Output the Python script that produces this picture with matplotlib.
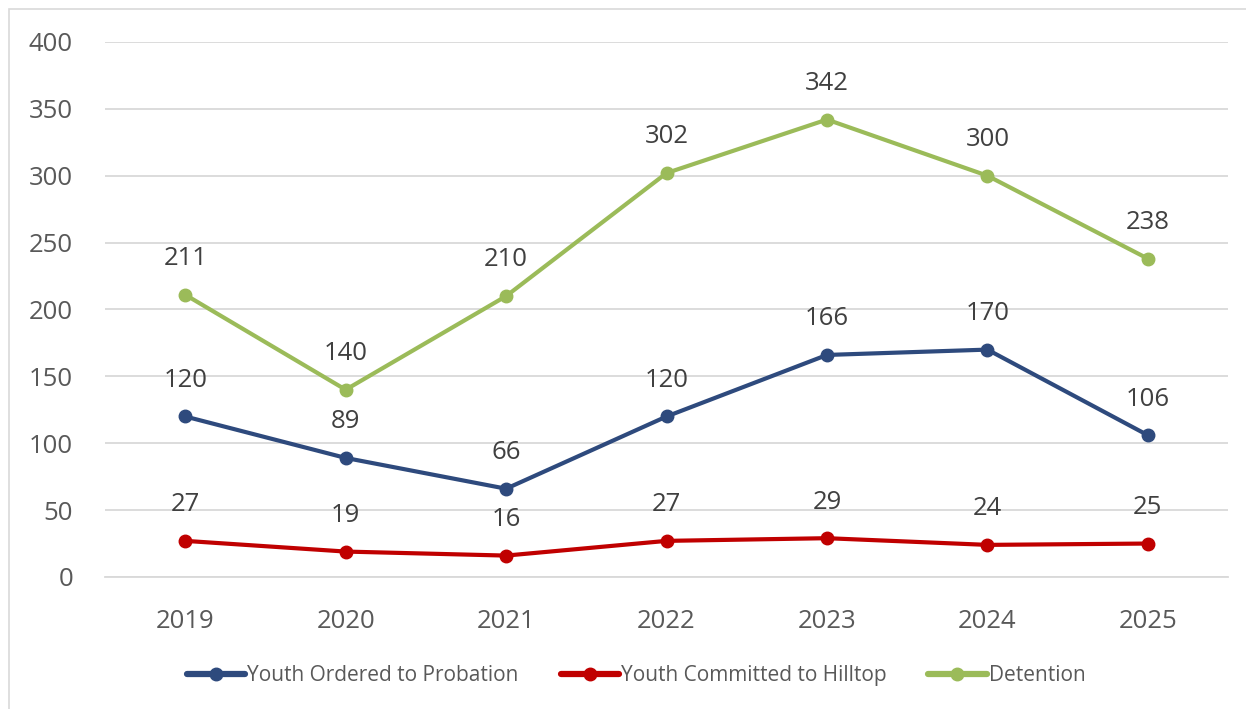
import matplotlib.pyplot as plt
from matplotlib.patches import Rectangle

years = ['2019', '2020', '2021', '2022', '2023', '2024', '2025']
probation = [120, 89, 66, 120, 166, 170, 106]
hilltop = [27, 19, 16, 27, 29, 24, 25]
detention = [211, 140, 210, 302, 342, 300, 238]

plt.rcParams['font.family'] = ['Open Sans', 'DejaVu Sans']

fig = plt.figure(figsize=(12.46, 7.09), dpi=100)
ax = fig.add_axes([0.0843, 0.1862, 0.9013, 0.7546])

# chart border
fig.patches.append(Rectangle((9 / 1246, -0.01), 1.0, 1 - 9 / 709 + 0.01,
                             transform=fig.transFigure, fill=False,
                             edgecolor='#d9d9d9', linewidth=1.2))

series = [
    ('Youth Ordered to Probation', probation, '#2e4a7d'),
    ('Youth Committed to Hilltop', hilltop, '#c00000'),
    ('Detention', detention, '#9bbb59'),
]

x = range(len(years))
for name, vals, col in series:
    ax.plot(x, vals, color=col, linewidth=3, marker='o', markersize=9,
            label=name, solid_capstyle='round')
    for xi, v in zip(x, vals):
        ax.annotate(str(v), (xi, v), xytext=(0, 26), textcoords='offset points',
                    ha='center', va='center', fontsize=18.5, color='#404040')

ax.set_xlim(-0.5, 6.5)
ax.set_ylim(0, 400)
ax.set_yticks(range(0, 401, 50))
ax.set_xticks(list(x))
ax.set_xticklabels(years)
ax.tick_params(axis='both', length=0, labelsize=18.5, colors='#595959')
ax.tick_params(axis='y', pad=23)
ax.tick_params(axis='x', pad=23)
ax.yaxis.grid(True, color='#d9d9d9', linewidth=1.3)
ax.set_axisbelow(True)
for s in ['top', 'right', 'left']:
    ax.spines[s].set_visible(False)
ax.spines['bottom'].set_color('#d9d9d9')
ax.spines['bottom'].set_linewidth(1.3)

leg = ax.legend(loc='center', bbox_to_anchor=(0.473, -0.185), ncol=3, frameon=False,
                fontsize=15, handlelength=2.8, handletextpad=0.1, columnspacing=2.0)
for t in leg.get_texts():
    t.set_color('#595959')
for h in leg.get_lines():
    h.set_linewidth(4.5)

fig.savefig('out.png', dpi=100)
